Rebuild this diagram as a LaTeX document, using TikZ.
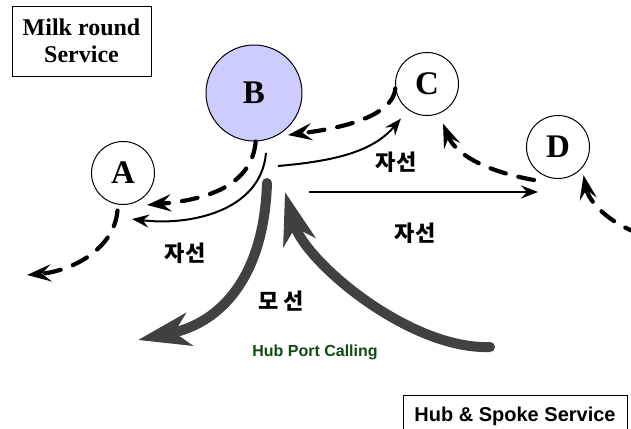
\documentclass[tikz,border=0pt]{standalone}
\usepackage{fontspec}
\setmainfont{Liberation Serif}
\setsansfont{Liberation Sans}
\newfontfamily\hangul{Noto Sans CJK KR}
\usetikzlibrary{automata,positioning,arrows.meta}
\definecolor{hubgray}{HTML}{414141}
\definecolor{callgreen}{HTML}{0E4A12}
\definecolor{hubfill}{HTML}{CCCCFF}
\tikzset{
every state/.style={draw, line width=1pt, minimum size=63pt, inner sep=0pt, font=\fontsize{33}{33}\selectfont\bfseries}, % every port
milkrun/.style={line width=4.2pt, line cap=round, dash pattern=on 16pt off 13pt, -{Stealth[length=24pt,width=17pt,inset=9pt]}}, % dashed round trip
feeder/.style={line width=2pt, -{Stealth[length=17pt,width=13pt,inset=6pt]}}, % feeder legs
trunk/.style={line width=10pt, line cap=round, draw=hubgray, -{Stealth[length=52pt,width=33pt,inset=15pt]}}, % mother vessel
ko/.style={font=\hangul\bfseries\fontsize{22}{22}\selectfont},
servicebox/.style={draw, line width=0.8pt, align=center, inner sep=0pt},
}

\begin{document}
\begin{tikzpicture}[x=1pt, y=1pt, on grid]
\useasboundingbox (0,0) rectangle (631,428);

% ports
\node[state, fill=hubfill, minimum size=96pt] (B) at (254,335) {B};
\node[state] (C) [above right=9pt and 173pt of B] {C};
\node[state] (A) [below left=80pt and 131pt of B] {A};
\node[state] (D) [below right=63pt and 131pt of C] {D};

% loose ends
\coordinate[below right=73pt and 24pt of B] (b_east);
\coordinate[below right=60pt and 12pt of B] (b_south);
\coordinate[below right=99pt and 55pt of B] (b_mid);
\coordinate[below left=45pt and 20pt of D] (d_west);
\coordinate[below right=32pt and 24pt of A] (a_tip1);
\coordinate[below right=46pt and 9pt of A] (a_tip2);
\coordinate[below left=102pt and 96pt of A] (a_away);
\coordinate[below left=33pt and 24pt of D] (d_start);
\coordinate[below right=87pt and 82pt of D] (d_feed);
\coordinate[below right=90pt and 13pt of B] (hub_top);
\coordinate[below right=99pt and 31pt of B] (hub_tip);
\coordinate (hub_left) at (138,88);
\coordinate (hub_tail) at (490,81);

\path[milkrun]
  (C.188) edge[out=-95, in=8, looseness=0.7, shorten >=13.5pt] (B.-65)
  (B.-88) edge[out=-95, in=5] (a_tip1)
  (A.-99) edge[out=-95, in=5, shorten <=6pt] (a_away)
  (d_start) edge[out=170, in=-68, shorten >=10.7pt] (C.-68)
  (d_feed) edge[out=160, in=-79, shorten >=7.3pt] (D.-41);

\path[feeder]
  (b_east) edge[out=5, in=-130, shorten >=11.3pt] (C.-126)
  (b_south) edge[out=-95, in=-7] (a_tip2)
  (b_mid) edge (d_west);

\draw[trunk] (hub_top) .. controls +(-3,-95) and +(82,17) .. (hub_left);
\draw[trunk] (hub_tail) .. controls +(-80,-3) and +(20,-70) .. (hub_tip);

\node[ko] (l_bc) at (396,266) {자선};
\node[ko] (l_bd) at (415,195) {자선};
\node[ko] (l_ba) at (185,175) {자선};
\node[ko] (l_hub) at (281,127) {모 선};
\node[font=\sffamily\bfseries\fontsize{16}{16}\selectfont, text=callgreen] (call) at (315,76) {Hub Port Calling};

\node[servicebox, font=\bfseries\fontsize{24}{27}\selectfont, minimum width=139pt, minimum height=70pt] (milk) at (81.5,387) {Milk round\\Service};
\node[servicebox, anchor=north, font=\sffamily\bfseries\fontsize{20}{20}\selectfont, minimum width=224pt, text height=14.5pt, text depth=4.5pt, inner ysep=11.5pt] (hubspoke) at (515,33) {Hub \& Spoke Service};
\end{tikzpicture}
\end{document}
